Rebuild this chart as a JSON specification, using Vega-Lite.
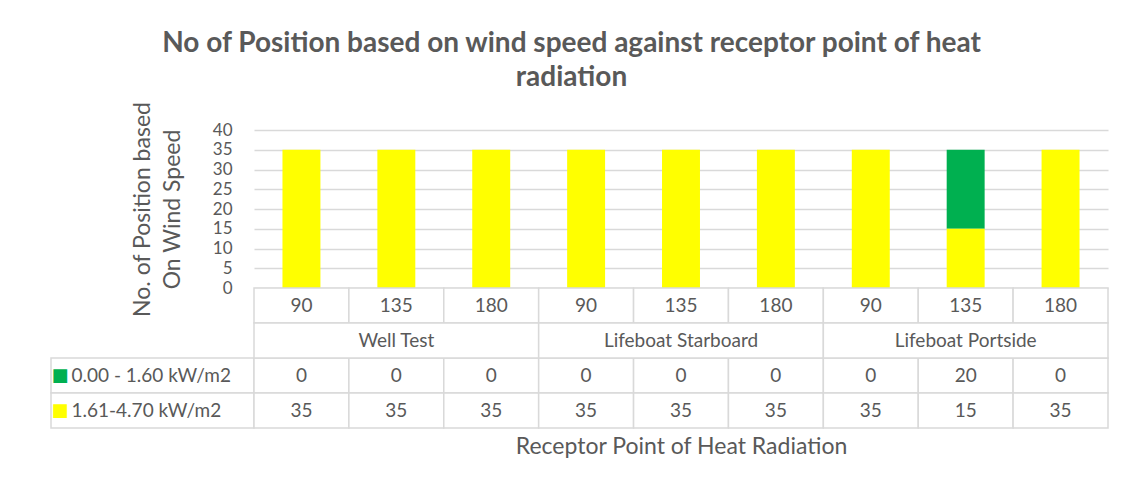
{
  "$schema": "https://vega.github.io/schema/vega-lite/v6.json",
  "background": "white",
  "padding": {"left": 50, "top": 30, "right": 18, "bottom": 31},
  "title": {
    "text": ["No of Position based on wind speed against receptor point of heat", "radiation"],
    "anchor": "middle",
    "font": "Lato",
    "fontSize": 28,
    "fontWeight": "bold",
    "color": "#595959",
    "lineHeight": 34,
    "offset": 9,
    "dx": -8
  },
  "datasets": {
    "bars": [
      {"col": "Well Test 90", "group": "Well Test", "angle": "90", "series": "0.00 - 1.60 kW/m2", "value": 0},
      {"col": "Well Test 90", "group": "Well Test", "angle": "90", "series": "1.61-4.70 kW/m2", "value": 35},
      {"col": "Well Test 135", "group": "Well Test", "angle": "135", "series": "0.00 - 1.60 kW/m2", "value": 0},
      {"col": "Well Test 135", "group": "Well Test", "angle": "135", "series": "1.61-4.70 kW/m2", "value": 35},
      {"col": "Well Test 180", "group": "Well Test", "angle": "180", "series": "0.00 - 1.60 kW/m2", "value": 0},
      {"col": "Well Test 180", "group": "Well Test", "angle": "180", "series": "1.61-4.70 kW/m2", "value": 35},
      {"col": "Lifeboat Starboard 90", "group": "Lifeboat Starboard", "angle": "90", "series": "0.00 - 1.60 kW/m2", "value": 0},
      {"col": "Lifeboat Starboard 90", "group": "Lifeboat Starboard", "angle": "90", "series": "1.61-4.70 kW/m2", "value": 35},
      {"col": "Lifeboat Starboard 135", "group": "Lifeboat Starboard", "angle": "135", "series": "0.00 - 1.60 kW/m2", "value": 0},
      {"col": "Lifeboat Starboard 135", "group": "Lifeboat Starboard", "angle": "135", "series": "1.61-4.70 kW/m2", "value": 35},
      {"col": "Lifeboat Starboard 180", "group": "Lifeboat Starboard", "angle": "180", "series": "0.00 - 1.60 kW/m2", "value": 0},
      {"col": "Lifeboat Starboard 180", "group": "Lifeboat Starboard", "angle": "180", "series": "1.61-4.70 kW/m2", "value": 35},
      {"col": "Lifeboat Portside 90", "group": "Lifeboat Portside", "angle": "90", "series": "0.00 - 1.60 kW/m2", "value": 0},
      {"col": "Lifeboat Portside 90", "group": "Lifeboat Portside", "angle": "90", "series": "1.61-4.70 kW/m2", "value": 35},
      {"col": "Lifeboat Portside 135", "group": "Lifeboat Portside", "angle": "135", "series": "0.00 - 1.60 kW/m2", "value": 20},
      {"col": "Lifeboat Portside 135", "group": "Lifeboat Portside", "angle": "135", "series": "1.61-4.70 kW/m2", "value": 15},
      {"col": "Lifeboat Portside 180", "group": "Lifeboat Portside", "angle": "180", "series": "0.00 - 1.60 kW/m2", "value": 0},
      {"col": "Lifeboat Portside 180", "group": "Lifeboat Portside", "angle": "180", "series": "1.61-4.70 kW/m2", "value": 35}
    ],
    "cols": [
      {"col": "Well Test 90", "angle": "90", "row": "angle"},
      {"col": "Well Test 135", "angle": "135", "row": "angle"},
      {"col": "Well Test 180", "angle": "180", "row": "angle"},
      {"col": "Lifeboat Starboard 90", "angle": "90", "row": "angle"},
      {"col": "Lifeboat Starboard 135", "angle": "135", "row": "angle"},
      {"col": "Lifeboat Starboard 180", "angle": "180", "row": "angle"},
      {"col": "Lifeboat Portside 90", "angle": "90", "row": "angle"},
      {"col": "Lifeboat Portside 135", "angle": "135", "row": "angle"},
      {"col": "Lifeboat Portside 180", "angle": "180", "row": "angle"}
    ],
    "groups": [
      {"group": "Well Test", "row": "group"},
      {"group": "Lifeboat Starboard", "row": "group"},
      {"group": "Lifeboat Portside", "row": "group"}
    ],
    "series": [
      {"series": "0.00 - 1.60 kW/m2"},
      {"series": "1.61-4.70 kW/m2"}
    ]
  },
  "columns": 2,
  "spacing": 0,
  "bounds": "flush",
  "concat": [
    {
      "width": 203,
      "height": 158,
      "data": {"values": [{}]},
      "mark": {"type": "text", "text": ""},
      "encoding": {}
    },
    {
      "width": 854,
      "height": 158,
      "data": {"name": "bars"},
      "mark": {"type": "bar", "width": {"band": 0.4}},
      "encoding": {
        "x": {
          "field": "col", "type": "nominal",
          "scale": {
            "domain": ["Well Test 90", "Well Test 135", "Well Test 180", "Lifeboat Starboard 90", "Lifeboat Starboard 135", "Lifeboat Starboard 180", "Lifeboat Portside 90", "Lifeboat Portside 135", "Lifeboat Portside 180"],
            "paddingInner": 0, "paddingOuter": 0
          },
          "axis": null
        },
        "y": {
          "field": "value", "type": "quantitative", "stack": "zero",
          "scale": {"domain": [0, 40], "nice": false},
          "axis": {
            "values": [0, 5, 10, 15, 20, 25, 30, 35, 40],
            "title": ["No. of Position based", "On Wind Speed"],
            "grid": true, "gridColor": "#d9d9d9", "gridWidth": 1.5,
            "domain": false, "ticks": false,
            "labelFont": "Lato", "labelFontSize": 17, "labelColor": "#595959", "labelPadding": 22,
            "titleFont": "Lato", "titleFontSize": 23, "titleFontWeight": "normal", "titleColor": "#595959",
            "titleLineHeight": 30, "titlePadding": 28
          }
        },
        "color": {
          "field": "series", "type": "nominal",
          "scale": {"domain": ["0.00 - 1.60 kW/m2", "1.61-4.70 kW/m2"], "range": ["#00B050", "#FFFF00"]},
          "legend": null
        },
        "order": {"field": "series", "sort": "descending"}
      }
    },
    {
      "width": 203,
      "height": 140,
      "data": {"name": "series"},
      "encoding": {
        "y": {
          "field": "series", "type": "nominal",
          "scale": {"domain": ["angle", "group", "0.00 - 1.60 kW/m2", "1.61-4.70 kW/m2"], "paddingInner": 0, "paddingOuter": 0},
          "axis": null
        }
      },
      "layer": [
        {"mark": {"type": "rect", "fill": "white", "stroke": "#d9d9d9", "strokeWidth": 1.5}},
        {
          "mark": {"type": "text", "text": "■", "align": "left", "dx": -101, "fontSize": 18, "font": "DejaVu Sans"},
          "encoding": {
            "color": {
              "field": "series", "type": "nominal",
              "scale": {"domain": ["0.00 - 1.60 kW/m2", "1.61-4.70 kW/m2"], "range": ["#00B050", "#FFFF00"]},
              "legend": null
            }
          }
        },
        {
          "mark": {"type": "text", "align": "left", "dx": -81, "fontSize": 19, "font": "Lato", "color": "#595959"},
          "encoding": {"text": {"field": "series"}}
        }
      ]
    },
    {
      "width": 854,
      "height": 140,
      "resolve": {"scale": {"x": "independent"}, "axis": {"x": "independent"}},
      "layer": [
        {
          "encoding": {
            "x": {
              "field": "col", "type": "nominal",
              "scale": {
                "domain": ["Well Test 90", "Well Test 135", "Well Test 180", "Lifeboat Starboard 90", "Lifeboat Starboard 135", "Lifeboat Starboard 180", "Lifeboat Portside 90", "Lifeboat Portside 135", "Lifeboat Portside 180"],
                "paddingInner": 0, "paddingOuter": 0
              },
              "axis": {
                "title": "Receptor Point of Heat Radiation",
                "labels": false, "ticks": false, "domain": false, "grid": false,
                "titleFont": "Lato", "titleFontSize": 23, "titleFontWeight": "normal", "titleColor": "#595959",
                "titlePadding": 7
              }
            }
          },
          "layer": [
            {
              "data": {"name": "cols"},
              "mark": {"type": "rect", "fill": "white", "stroke": "#d9d9d9", "strokeWidth": 1.5},
              "encoding": {
                "y": {"field": "row", "type": "nominal", "scale": {"domain": ["angle", "group", "0.00 - 1.60 kW/m2", "1.61-4.70 kW/m2"], "paddingInner": 0, "paddingOuter": 0}, "axis": null}
              }
            },
            {
              "data": {"name": "cols"},
              "mark": {"type": "text", "fontSize": 19, "font": "Lato", "color": "#595959"},
              "encoding": {
                "y": {"field": "row", "type": "nominal", "axis": null},
                "text": {"field": "angle"}
              }
            },
            {
              "data": {"name": "bars"},
              "mark": {"type": "rect", "fill": "white", "stroke": "#d9d9d9", "strokeWidth": 1.5},
              "encoding": {
                "y": {"field": "series", "type": "nominal", "axis": null}
              }
            },
            {
              "data": {"name": "bars"},
              "mark": {"type": "text", "fontSize": 19, "font": "Lato", "color": "#595959"},
              "encoding": {
                "y": {"field": "series", "type": "nominal", "axis": null},
                "text": {"field": "value", "type": "quantitative"}
              }
            }
          ]
        },
        {
          "data": {"name": "groups"},
          "encoding": {
            "x": {
              "field": "group", "type": "nominal",
              "scale": {"domain": ["Well Test", "Lifeboat Starboard", "Lifeboat Portside"], "paddingInner": 0, "paddingOuter": 0},
              "axis": null
            },
            "y": {"field": "row", "type": "nominal", "axis": null}
          },
          "layer": [
            {"mark": {"type": "rect", "fill": "white", "stroke": "#d9d9d9", "strokeWidth": 1.5}},
            {"mark": {"type": "text", "fontSize": 19, "font": "Lato", "color": "#595959"}, "encoding": {"text": {"field": "group"}}}
          ]
        }
      ]
    }
  ],
  "config": {
    "view": {"stroke": null},
    "font": "Lato"
  }
}
